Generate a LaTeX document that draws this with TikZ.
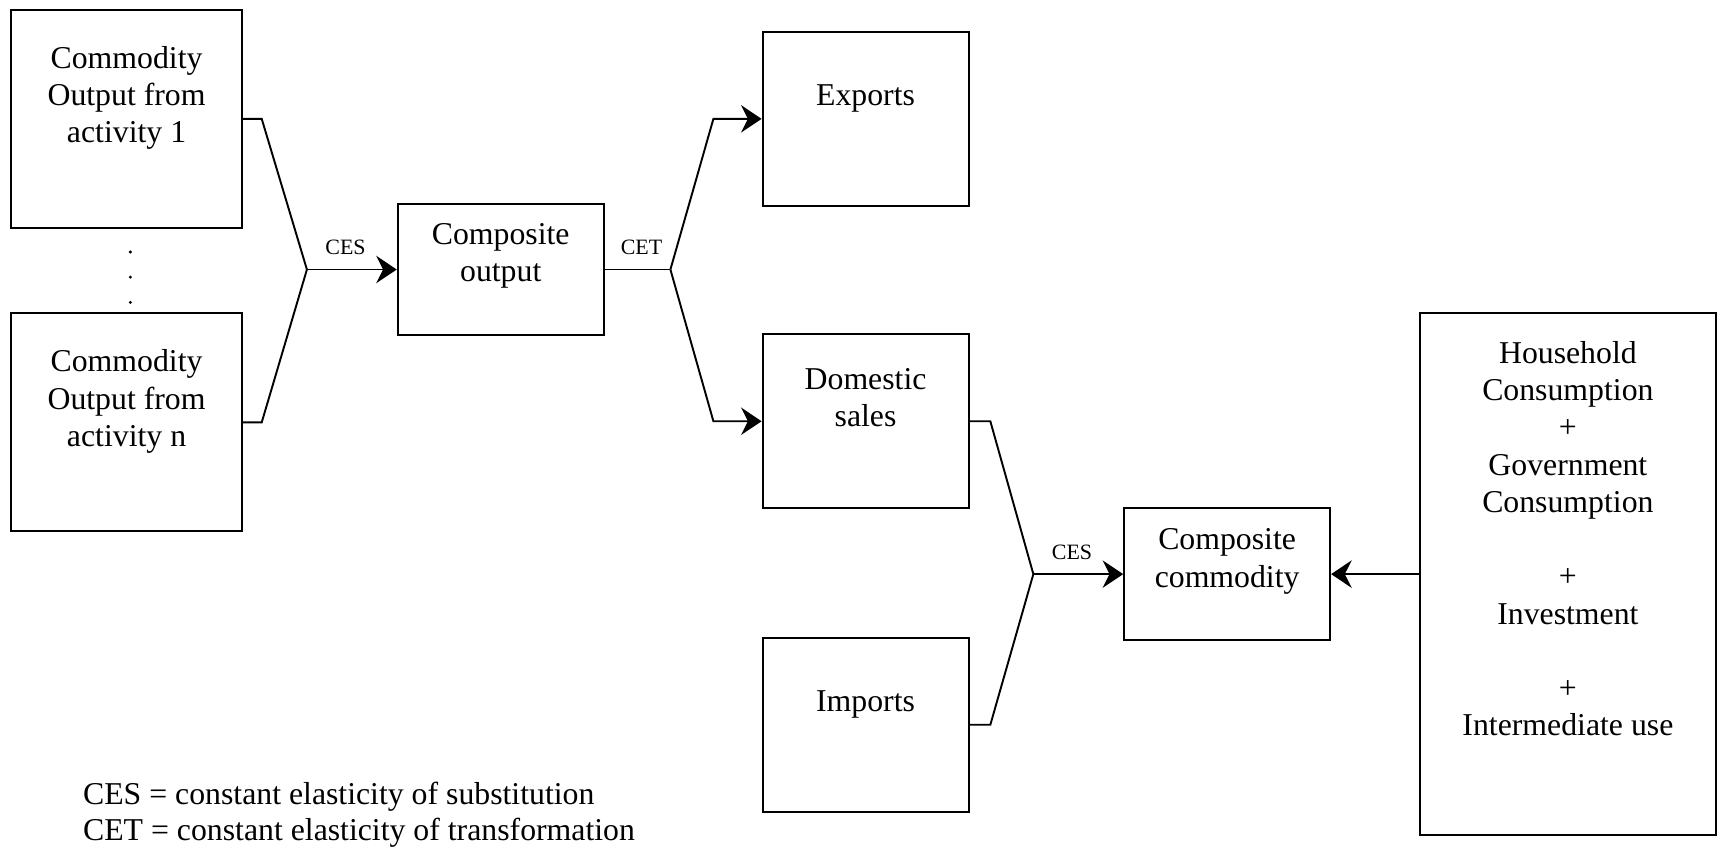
\documentclass[tikz,border=0pt]{standalone}
\usepackage{fontspec}
\setmainfont{Liberation Serif}
\usepackage{tikz}
\usetikzlibrary{positioning}
\usetikzlibrary{arrows.meta}
\newcommand{\lift}[1]{\\[#1]\mbox{}}

\begin{document}
\begin{tikzpicture}[on grid,>={Stealth[length=7.5pt,width=10pt,inset=2.5pt]},line width=0.7pt,
		font=\fontsize{11.6}{13.6}\selectfont,
		box/.style={rectangle,draw=black,inner sep=0pt,align=center,minimum width=75.2pt},
		tall/.style={box,minimum height=63.6pt},
		flat/.style={box,minimum height=48pt},
		src/.style={box,minimum width=84.4pt,minimum height=79.6pt},
		tag/.style={font=\fontsize{8}{9.6}\selectfont,anchor=south,yshift=1.6pt}]
		\useasboundingbox (0,0) rectangle (627.2pt,-309.6pt);
		\node[src]   (act1)  at (46.2pt,-43.4pt)          {Commodity\\Output from\\activity 1\lift{4.2pt}};
		\node[src]   (actn)  [below=110.8pt of act1]      {Commodity\\Output from\\activity n\lift{4.2pt}};
		\node[flat]  (cout)  [below right=55pt and 136.6pt of act1] {Composite\\output\lift{-1.4pt}};
		\node[tall]  (exp)   [right=269.8pt of act1]      {Exports\lift{4pt}};
		\node[tall]  (dom)   [below=110.4pt of exp]       {Domestic\\sales\lift{3.6pt}};
		\node[tall]  (imp)   [below=110.8pt of dom]       {Imports\lift{4pt}};
		\node[flat]  (ccom)  [below right=55.8pt and 132pt of dom] {Composite\\commodity\lift{-1.8pt}};
		\node[box,minimum width=108pt,minimum height=190.8pt]
		             (dem)   [right=124.4pt of ccom]
		             {Household\\Consumption\\+\\Government\\Consumption\\[13.6pt]+\\Investment\\[13.6pt]+\\Intermediate use\lift{12.4pt}};
		\node[anchor=north west,align=left,inner sep=0pt,font=\fontsize{11.6}{13.2}\selectfont]
		             (key)   at (30pt,-285.2pt)
		             {CES = constant elasticity of substitution\\CET = constant elasticity of transformation};
		
		% the dots between activity 1 and n
		\coordinate[below=57.8pt of act1] (dots);
		\foreach \k in {-1,0,1}
			\fill ([xshift=1.4pt,yshift=\k*9.2pt]dots) circle (0.6pt);
		
		\coordinate[left=32.8pt of cout.west] (jin);
		\coordinate[right=24pt of cout.east]  (jout);
		\coordinate[left=32.8pt of ccom.west] (jcc);
		
		% CES nest of the activity outputs
		\draw (act1.east) -- ([xshift=6.8pt]act1.east) -- (jin);
		\draw (actn.east) -- ([xshift=6.8pt]actn.east) -- (jin);
		\draw[->] (jin) -- node[tag,pos=0.43] {CES} (cout);
		% CET split
		\draw (cout.east) -- node[tag,pos=0.56] {CET} (jout);
		\draw[->] (jout) -- ([xshift=-17.6pt]exp.west) -- (exp.west);
		\draw[->] (jout) -- ([xshift=-17.6pt]dom.west) -- (dom.west);
		% Armington CES
		\draw (dom.east) -- ([xshift=7.6pt]dom.east) -- (jcc);
		\draw (imp.east) -- ([xshift=7.6pt]imp.east) -- (jcc);
		\draw[->] (jcc) -- node[tag,pos=0.43] {CES} (ccom);
		\draw[->] (dem) -- (ccom);
\end{tikzpicture}
\end{document}
